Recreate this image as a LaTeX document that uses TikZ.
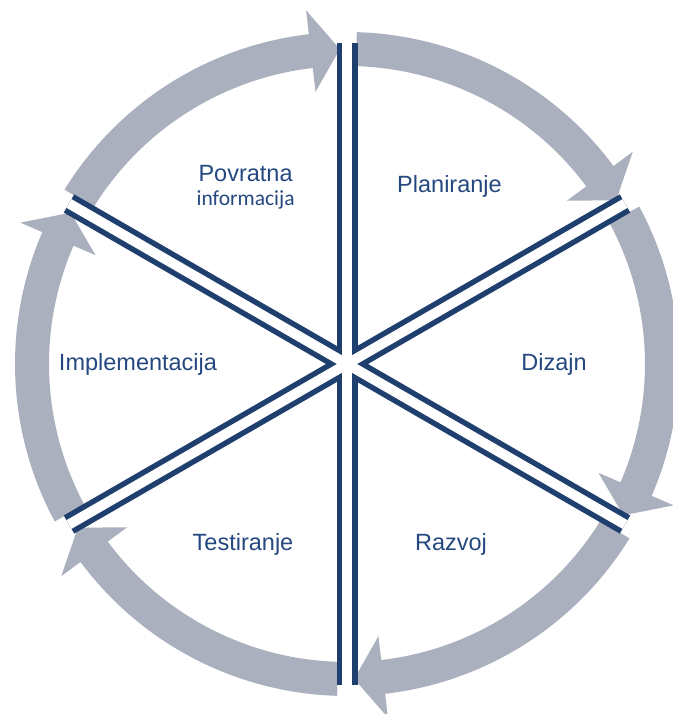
\documentclass[tikz,border=0pt]{standalone}
\usepackage{fontspec}
\setmainfont{Liberation Sans}
\newfontfamily\subfont{Carlito}
\usetikzlibrary{positioning}
\definecolor{ringgray}{HTML}{ABB0BF}
\definecolor{spokeblue}{HTML}{1F3F6E}
\definecolor{labelblue}{HTML}{24487F}
\tikzstyle{segment}=[fill=ringgray, draw=none]
\tikzstyle{spoke}=[draw=spokeblue, line width=21pt]
\tikzstyle{spokecore}=[draw=white, line width=10pt]
\tikzstyle{phase}=[text=labelblue, inner sep=0pt, font=\fontsize{23.5}{24}\selectfont]

\begin{document}
\begin{tikzpicture}
  \useasboundingbox (-347pt,-350pt) rectangle (325pt,364pt);
  \coordinate (c) at (0,0);
  \foreach \a in {30,90,...,330}
    \coordinate (s\a) at (\a:321pt);
  % ring of arrows, clockwise
  \foreach \a in {90,30,-30,-90,-150,-210} {
    \pgfmathsetmacro\tl{\a-1.7}
    \pgfmathsetmacro\hb{\a-60+6.6}
    \pgfmathsetmacro\tp{\a-60+1.3}
    \fill[segment] (\tl:332pt) arc[start angle=\tl, end angle=\hb, radius=332pt]
      -- (\hb:356pt) -- (\tp:315pt) -- (\hb:274pt) -- (\hb:298pt)
      arc[start angle=\hb, end angle=\tl, radius=298pt] -- cycle;
  }
  % spokes
  \foreach \a in {30,90,...,330}
    \draw[spoke] (c) -- (s\a);
  \foreach \a in {30,90,...,330}
    \draw[spokecore] (c) -- (s\a);
  % phases
  \node[phase] (planiranje) at (60:205pt) {Planiranje};
  \node[phase] (dizajn) at (0:207pt) {Dizajn};
  \node[phase] (razvoj) at (-60:208pt) {Razvoj};
  \node[phase] (testiranje) at (-120:208pt) {Testiranje};
  \node[phase] (implementacija) at (180:209pt) {Implementacija};
  \node[phase] (povratna) at (118:216pt) {Povratna};
  \node[phase, font=\subfont\fontsize{21.5}{22}\selectfont] (informacija)
    [below=24pt of povratna.base, anchor=base] {informacija};
\end{tikzpicture}
\end{document}
